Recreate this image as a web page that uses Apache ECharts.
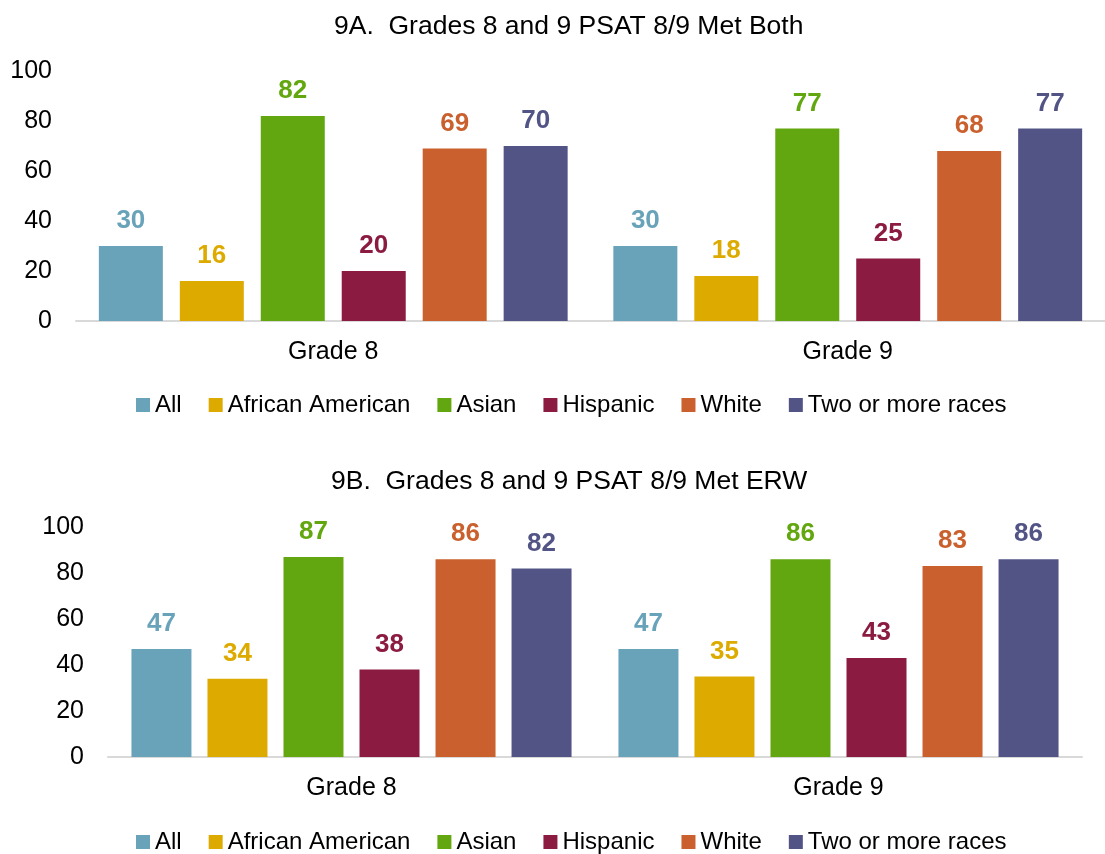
<!DOCTYPE html>
<html>
<head>
<meta charset="utf-8">
<script src="https://cdn.jsdelivr.net/npm/echarts@6/dist/echarts.min.js"></script>
<style>
  html, body { margin: 0; padding: 0; background: #fff; }
  #chart { width: 1105px; height: 854px; }
</style>
</head>
<body>
<div id="chart"></div>
<script>
const grades = ["Grade 8", "Grade 9"];
const groups = ["All", "African American", "Asian", "Hispanic", "White", "Two or more races"];
const colors = ["#68A3BA", "#DDAA00", "#62A70F", "#8B1B40", "#C9602D", "#535486"];

// 9A: met both
const bothGrade8 = [30, 16, 82, 20, 69, 70];
const bothGrade9 = [30, 18, 77, 25, 68, 77];
// 9B: met ERW
const erwGrade8 = [47, 34, 87, 38, 86, 82];
const erwGrade9 = [47, 35, 86, 43, 83, 86];

const yTicks = [0, 20, 40, 60, 80, 100];

const font = 'Arial, "Liberation Sans", sans-serif';
const chart = echarts.init(document.getElementById("chart"));

function xAxis(gridIndex) {
    return {
        type: "category",
        gridIndex: gridIndex,
        data: grades,
        axisLine: { lineStyle: { color: "#D9D9D9", width: 2 } },
        axisTick: { show: false },
        axisLabel: { color: "#000", fontSize: 25, fontFamily: font, margin: 19 },
    };
}

function yAxis(gridIndex) {
    return {
        type: "value",
        gridIndex: gridIndex,
        min: yTicks[0],
        max: yTicks[yTicks.length - 1],
        interval: yTicks[1] - yTicks[0],
        axisLine: { show: false },
        axisTick: { show: false },
        splitLine: { show: false },
        axisLabel: { color: "#000", fontSize: 25, fontFamily: font, margin: 24 },
    };
}

function makeSeries(idx, a, b, barWidth, barGap) {
    return groups.map(function (name, i) {
        return {
            name: name,
            type: "bar",
            xAxisIndex: idx,
            yAxisIndex: idx,
            data: [a[i], b[i]],
            barWidth: barWidth,
            barGap: barGap,
            itemStyle: { color: colors[i] },
            label: {
                show: true,
                position: "top",
                distance: 12,
                color: colors[i],
                fontSize: 26,
                fontWeight: "bold",
                fontFamily: font,
            },
        };
    });
}

function legend(top) {
    return {
        top: top,
        left: 131,
        data: groups,
        icon: "rect",
        itemWidth: 14,
        itemHeight: 14,
        itemGap: 27,
        textStyle: { color: "#000", fontSize: 24, fontFamily: font },
        selectedMode: false,
    };
}

chart.setOption({
    animation: false,
    color: colors,
    title: [
        {
            text: "9A.  Grades 8 and 9 PSAT 8/9 Met Both",
            left: 329,
            top: 8,
            textStyle: { color: "#000", fontSize: 26.5, fontWeight: "normal", fontFamily: font },
        },
        {
            text: "9B.  Grades 8 and 9 PSAT 8/9 Met ERW",
            left: 326,
            top: 463,
            textStyle: { color: "#000", fontSize: 26.5, fontWeight: "normal", fontFamily: font },
        },
    ],
    legend: [legend(388), legend(825)],
    grid: [
        { left: 76, width: 1038, top: 71, height: 250 },
        { left: 108, width: 974, top: 527, height: 230 },
    ],
    xAxis: [xAxis(0), xAxis(1)],
    yAxis: [yAxis(0), yAxis(1)],
    series: makeSeries(0, bothGrade8, bothGrade9, 64, "26.5%").concat(
        makeSeries(1, erwGrade8, erwGrade9, 60, "26.7%")
    ),
});
</script>
</body>
</html>
